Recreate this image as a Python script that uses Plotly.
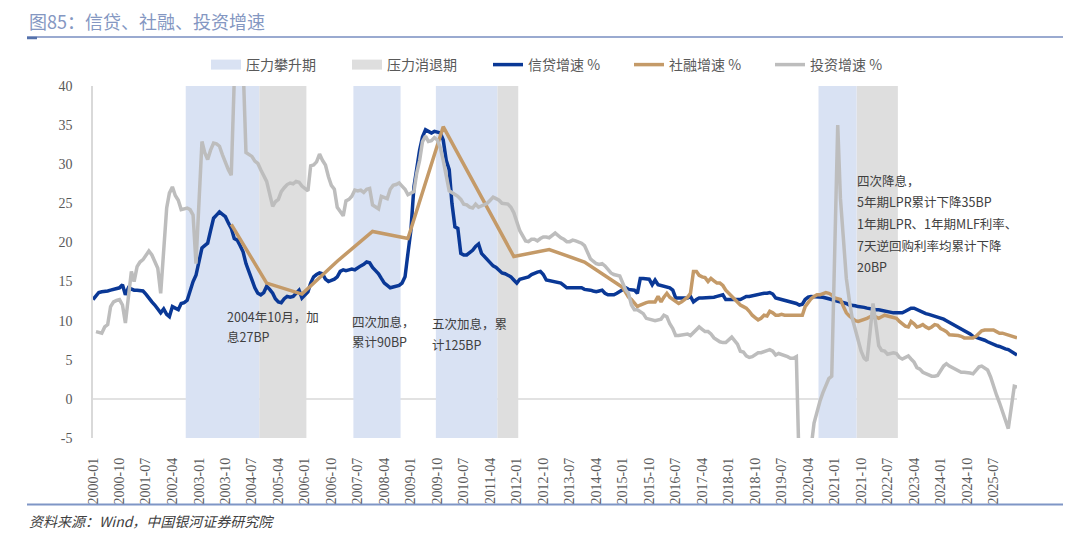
import pandas as pd
import plotly.graph_objects as go

# ---------------- data ----------------
# 信贷增速 %  (monthly, 2000-01 .. 2026-03)
loan_2000 = [12.7, 13.2, 13.6, 13.7, 13.7, 13.8, 13.9, 14.0, 14.0, 14.2, 14.6, 13.3]
loan_2001 = [14.2, 14.0, 13.9, 13.9, 13.9, 13.8, 13.4, 12.8, 12.4, 12.0, 11.5, 11.0]
loan_2002 = [11.5, 10.8, 10.5, 11.8, 11.6, 11.4, 12.2, 12.3, 12.6, 13.9, 15.0, 15.8]
loan_2003 = [17.5, 19.3, 19.6, 19.9, 21.5, 23.1, 23.5, 23.9, 23.6, 23.3, 22.5, 21.8]
loan_2004 = [20.5, 20.3, 19.6, 18.8, 17.3, 16.2, 15.0, 14.2, 13.5, 13.3, 13.6, 14.4]
loan_2005 = [14.0, 13.5, 12.8, 12.4, 12.3, 12.8, 13.1, 13.0, 13.1, 13.5, 13.9, 12.9]
loan_2006 = [13.3, 13.7, 14.8, 15.6, 15.9, 16.1, 16.0, 15.3, 15.0, 15.1, 15.3, 15.6]
loan_2007 = [16.3, 16.5, 16.4, 16.5, 16.6, 16.5, 16.8, 17.0, 17.2, 17.5, 17.4, 16.8]
loan_2008 = [16.4, 16.0, 15.4, 14.8, 14.5, 14.2, 14.3, 14.4, 14.5, 14.8, 15.6, 18.6]
loan_2009 = [21.6, 27.1, 29.7, 31.8, 33.5, 34.4, 34.2, 34.0, 34.2, 34.1, 34.0, 33.1]
loan_2010 = [30.5, 29.3, 25.0, 22.0, 21.8, 18.6, 18.4, 18.4, 18.7, 19.0, 19.5, 19.8]
loan_2011 = [18.6, 18.2, 17.8, 17.5, 17.0, 16.8, 16.5, 16.1, 16.0, 15.8, 15.6, 15.2]
loan_2012 = [14.8, 15.3, 15.4, 15.5, 15.6, 15.9, 16.1, 16.2, 16.3, 15.9, 15.2, 15.1]
loan_2013 = [15.0, 14.9, 14.9, 14.8, 14.5, 14.2, 14.2, 14.2, 14.1, 14.2, 14.2, 14.0]
loan_2014 = [14.0, 13.9, 13.8, 13.7, 13.8, 13.9, 13.5, 13.3, 13.3, 13.3, 13.5, 13.7]
loan_2015 = [13.9, 14.2, 14.0, 13.9, 13.9, 13.5, 15.4, 15.4, 15.4, 15.3, 14.6, 15.2]
loan_2016 = [14.6, 14.5, 14.4, 14.4, 14.2, 13.9, 12.9, 12.9, 12.9, 12.9, 12.9, 13.1]
loan_2017 = [12.4, 12.7, 12.9, 12.9, 12.9, 12.9, 13.0, 13.0, 13.1, 13.2, 13.3, 12.7]
loan_2018 = [12.7, 12.7, 12.7, 12.7, 12.7, 12.9, 13.1, 13.1, 13.2, 13.3, 13.3, 13.4]
loan_2019 = [13.5, 13.5, 13.6, 13.4, 12.9, 12.8, 12.7, 12.6, 12.5, 12.4, 12.4, 12.2]
loan_2020 = [12.0, 12.1, 12.7, 13.0, 13.1, 13.1, 13.0, 13.0, 13.0, 12.9, 12.8, 12.7]
loan_2021 = [12.7, 12.6, 12.4, 12.3, 12.2, 12.0, 12.0, 11.9, 11.8, 11.8, 11.7, 11.6]
loan_2022 = [11.5, 11.4, 11.4, 11.4, 11.3, 11.2, 11.2, 11.1, 11.0, 11.0, 11.0, 11.0]
loan_2023 = [11.2, 11.4, 11.6, 11.6, 11.4, 11.2, 11.0, 10.9, 10.8, 10.7, 10.6, 10.5]
loan_2024 = [10.3, 10.2, 10.0, 9.8, 9.6, 9.3, 9.1, 8.9, 8.7, 8.5, 8.3, 8.0]
loan_2025 = [7.9, 7.8, 7.6, 7.5, 7.3, 7.1, 6.9, 6.8, 6.7, 6.5, 6.4, 6.3]
loan_2026 = [6.1, 5.9, 5.6]

# 投资增速 %  (monthly, 2000-01 .. 2026-03; January not published)
inv_2000 = [None, 8.6, 8.5, 8.4, 9.2, 9.5, 11.8, 12.4, 12.6, 12.7, 12.0, 9.7]
inv_2001 = [None, 16.3, 15.0, 16.9, 17.5, 17.8, 18.3, 18.9, 18.4, 17.6, 16.7, 13.5]
inv_2002 = [None, 24.4, 26.3, 27.1, 26.0, 25.4, 24.2, 24.3, 24.4, 24.2, 23.5, 17.3]
inv_2003 = [None, 32.9, 31.5, 30.6, 31.8, 32.7, 32.6, 32.3, 31.2, 30.1, 29.3, 28.6]
inv_2004 = [None, 53.0, 47.8, 42.8, 31.5, 31.2, 31.0, 30.4, 30.1, 29.3, 28.6, 27.8]
inv_2005 = [None, 24.6, 25.2, 25.5, 26.5, 27.0, 27.4, 27.6, 27.5, 27.8, 27.7, 27.2]
inv_2006 = [None, 26.6, 29.8, 29.9, 30.3, 31.3, 30.5, 29.9, 28.4, 27.3, 26.8, 24.5]
inv_2007 = [None, 23.4, 25.3, 25.5, 25.9, 26.7, 26.6, 26.7, 26.4, 26.8, 26.9, 24.8]
inv_2008 = [None, 24.3, 25.9, 25.7, 25.6, 26.8, 27.3, 27.4, 27.6, 27.2, 26.8, 26.1]
inv_2009 = [None, 26.5, 28.8, 30.5, 32.9, 33.6, 32.9, 33.0, 33.4, 33.1, 32.1, 30.5]
inv_2010 = [None, 26.6, 26.4, 26.1, 25.9, 25.5, 24.9, 24.8, 24.5, 24.4, 24.9, 24.5]
inv_2011 = [None, 24.9, 25.0, 25.4, 25.8, 25.6, 25.4, 25.0, 24.9, 24.9, 24.5, 23.8]
inv_2012 = [None, 21.5, 20.9, 20.2, 20.1, 20.4, 20.4, 20.2, 20.5, 20.7, 20.7, 20.6]
inv_2013 = [None, 21.2, 20.9, 20.6, 20.4, 20.1, 20.1, 20.3, 20.2, 20.1, 19.9, 19.6]
inv_2014 = [None, 17.9, 17.6, 17.3, 17.2, 17.3, 17.0, 16.5, 16.1, 15.9, 15.8, 15.7]
inv_2015 = [None, 13.9, 13.5, 12.0, 11.4, 11.4, 11.2, 10.9, 10.3, 10.2, 10.2, 10.0]
inv_2016 = [None, 10.2, 10.7, 10.5, 9.6, 9.0, 8.1, 8.1, 8.2, 8.3, 8.3, 8.1]
inv_2017 = [None, 8.9, 9.2, 8.9, 8.6, 8.6, 8.3, 7.8, 7.5, 7.3, 7.2, 7.2]
inv_2018 = [None, 7.9, 7.5, 7.0, 6.1, 6.0, 5.5, 5.3, 5.4, 5.7, 5.9, 5.9]
inv_2019 = [None, 6.1, 6.3, 6.1, 5.6, 5.8, 5.7, 5.5, 5.4, 5.2, 5.2, 5.4]
inv_2020 = [None, -24.5, -16.1, -10.3, -6.3, -3.1, -1.6, -0.3, 0.8, 1.8, 2.6, 2.9]
inv_2021 = [None, 35.0, 25.6, 19.9, 15.4, 12.6, 10.3, 8.9, 7.3, 6.1, 5.2, 4.9]
inv_2022 = [None, 12.2, 9.3, 6.8, 6.2, 6.1, 5.7, 5.8, 5.9, 5.8, 5.3, 5.1]
inv_2023 = [None, 5.5, 5.1, 4.7, 4.0, 3.8, 3.4, 3.2, 3.1, 2.9, 2.9, 3.0]
inv_2024 = [None, 4.2, 4.5, 4.2, 4.0, 3.9, 3.6, 3.4, 3.4, 3.4, 3.3, 3.2]
inv_2025 = [None, 4.1, 4.2, 4.0, 3.7, 2.8, 1.6, 0.5, -0.5, -1.7, -2.6, -3.8]
inv_2026 = [None, 1.6, 1.5]

# 社融增速 %  (annual points 2003-2014, then monthly from 2015-01)
sf_annual_dates = ["2003-12", "2004-12", "2005-12", "2006-12", "2007-12", "2008-12",
                   "2009-12", "2010-12", "2011-12", "2012-12", "2013-12", "2014-12"]
sf_annual_values = [22.3, 14.8, 13.4, 17.6, 21.4, 20.5, 34.8, 26.5, 18.2, 19.1, 17.5, 14.5]
sf_2015 = [14.2, 13.6, 13.0, 12.7, 12.3, 11.8, 12.0, 12.2, 12.3, 12.4, 12.4, 12.4]
sf_2016 = [13.1, 12.4, 13.0, 13.5, 13.0, 12.7, 12.4, 12.2, 12.4, 12.7, 13.0, 13.5]
sf_2017 = [16.3, 16.3, 15.8, 15.6, 15.5, 15.0, 15.4, 15.1, 14.8, 14.8, 14.5, 13.9]
sf_2018 = [13.5, 13.2, 12.7, 12.4, 12.0, 11.8, 11.6, 11.2, 10.7, 10.4, 10.1, 10.3]
sf_2019 = [10.7, 10.6, 11.2, 11.0, 10.7, 10.7, 10.8, 10.7, 10.7, 10.7, 10.7, 10.7]
sf_2020 = [10.7, 10.7, 11.8, 12.4, 12.8, 13.1, 13.3, 13.3, 13.5, 13.6, 13.5, 13.3]
sf_2021 = [12.9, 12.8, 12.7, 11.8, 11.0, 10.6, 10.3, 10.0, 9.9, 10.0, 10.1, 10.3]
sf_2022 = [10.5, 10.4, 10.5, 10.3, 10.5, 10.7, 10.6, 10.5, 10.5, 10.3, 9.9, 9.6]
sf_2023 = [9.3, 9.2, 9.9, 9.6, 9.2, 9.3, 9.5, 9.2, 9.0, 9.2, 9.5, 9.4]
sf_2024 = [9.0, 8.8, 8.6, 8.2, 8.2, 8.2, 8.1, 8.0, 7.8, 7.8, 7.8, 7.8]
sf_2025 = [8.0, 8.3, 8.7, 8.8, 8.8, 8.8, 8.8, 8.6, 8.4, 8.4, 8.3, 8.2]
sf_2026 = [8.1, 8.0, 7.8]

# 压力攀升期 / 压力消退期 (first month, last month)
rise_periods = [("2002-09", "2004-09"), ("2007-06", "2008-09"),
                ("2009-10", "2011-06"), ("2020-08", "2021-08")]
ease_periods = [("2004-10", "2006-01"), ("2011-07", "2012-01"), ("2021-09", "2022-10")]

# axis ticks
tick_dates = pd.date_range("2000-01-01", "2025-07-01", freq="9MS")
tick_labels = [d.strftime("%Y-%m") for d in tick_dates]
y_tick_vals = [-5, 0, 5, 10, 15, 20, 25, 30, 35, 40]
y_tick_labels = ["-5", "0", "5", "10", "15", "20", "25", "30", "35", "40"]

# ---------------- assemble ----------------
loan = (loan_2000 + loan_2001 + loan_2002 + loan_2003 + loan_2004 + loan_2005 + loan_2006
        + loan_2007 + loan_2008 + loan_2009 + loan_2010 + loan_2011 + loan_2012 + loan_2013
        + loan_2014 + loan_2015 + loan_2016 + loan_2017 + loan_2018 + loan_2019 + loan_2020
        + loan_2021 + loan_2022 + loan_2023 + loan_2024 + loan_2025 + loan_2026)
inv = (inv_2000 + inv_2001 + inv_2002 + inv_2003 + inv_2004 + inv_2005 + inv_2006
       + inv_2007 + inv_2008 + inv_2009 + inv_2010 + inv_2011 + inv_2012 + inv_2013
       + inv_2014 + inv_2015 + inv_2016 + inv_2017 + inv_2018 + inv_2019 + inv_2020
       + inv_2021 + inv_2022 + inv_2023 + inv_2024 + inv_2025 + inv_2026)
sf_monthly = (sf_2015 + sf_2016 + sf_2017 + sf_2018 + sf_2019 + sf_2020 + sf_2021
              + sf_2022 + sf_2023 + sf_2024 + sf_2025 + sf_2026)

months = pd.date_range("2000-01-01", periods=len(loan), freq="MS")
inv_months = pd.date_range("2000-01-01", periods=len(inv), freq="MS")
sf_months = list(pd.to_datetime(sf_annual_dates)) + list(
    pd.date_range("2015-01-01", periods=len(sf_monthly), freq="MS"))
sf_values = sf_annual_values + sf_monthly

C_LOAN = "#0A3896"
C_SF = "#C49A68"
C_INV = "#BDBDBD"
C_RISE = "#D9E2F3"
C_EASE = "#DEDEDE"
FONT_CJK = "Noto Sans CJK SC"
FONT_NUM = "Liberation Serif"

# plot area in pixels
L, R, T, B = 93, 1017, 86, 438
W, H = 1080, 538


def px_x(p):
    return (p - L) / (R - L)


def px_y(p):
    return (B - p) / (B - T)


fig = go.Figure()

# legend entries for the shaded periods
fig.add_trace(go.Scatter(x=[None], y=[None], mode="lines", name="压力攀升期",
                         line=dict(color=C_RISE, width=11)))
fig.add_trace(go.Scatter(x=[None], y=[None], mode="lines", name="压力消退期",
                         line=dict(color=C_EASE, width=11)))

fig.add_trace(go.Scatter(x=months, y=loan, mode="lines", name="信贷增速 %",
                         line=dict(color=C_LOAN, width=3.5)))
fig.add_trace(go.Scatter(x=sf_months, y=sf_values, mode="lines", name="社融增速 %",
                         line=dict(color=C_SF, width=3.5)))
fig.add_trace(go.Scatter(x=inv_months, y=inv, mode="lines", name="投资增速 %",
                         connectgaps=True, line=dict(color=C_INV, width=3.5)))

shapes = []
# zero reference line (drawn first so the shaded periods cover it)
shapes.append(dict(type="line", xref="x domain", yref="y", x0=0, x1=1, y0=0, y1=0,
                   line=dict(color="#D9D9D9", width=1.5), layer="below"))

half = pd.Timedelta(days=15)
for periods, col in ((rise_periods, C_RISE), (ease_periods, C_EASE)):
    for s, e in periods:
        x0 = pd.Timestamp(s + "-01") - half
        x1 = pd.Timestamp(e + "-01") + half
        shapes.append(dict(type="rect", xref="x", yref="y domain", x0=x0, x1=x1,
                           y0=0, y1=1, fillcolor=col, line=dict(width=0), layer="below"))

# title rule, bottom rule
shapes.append(dict(type="line", xref="paper", yref="paper", x0=px_x(27), x1=px_x(1063),
                   y0=px_y(37), y1=px_y(37), line=dict(color="#9AAAD0", width=2)))
shapes.append(dict(type="line", xref="paper", yref="paper", x0=px_x(27), x1=px_x(37),
                   y0=px_y(38), y1=px_y(38), line=dict(color="#5572AC", width=2.5)))
shapes.append(dict(type="line", xref="paper", yref="paper", x0=px_x(27), x1=px_x(1063),
                   y0=px_y(504.5), y1=px_y(504.5), line=dict(color="#7F96C6", width=2)))

annotations = [
    dict(text="图85：信贷、社融、投资增速", xref="paper", yref="paper", x=px_x(27), y=px_y(21),
         xanchor="left", yanchor="middle", showarrow=False,
         font=dict(family=FONT_CJK, size=18, color="#8497C2")),
    dict(text="<i>资料来源：Wind，中国银河证券研究院</i>", xref="paper", yref="paper",
         x=px_x(27), y=px_y(521), xanchor="left", yanchor="middle", showarrow=False,
         font=dict(family=FONT_CJK, size=14, color="#404040")),
]

notes = [
    (225, [(316.7, "2004年10月，加"), (336.7, "息27BP")]),
    (350, [(321.7, "四次加息，"), (341.7, "累计90BP")]),
    (430, [(323, "五次加息，累"), (344, "计125BP")]),
    (854.5, [(180, "四次降息，"), (201, "5年期LPR累计下降35BP"),
             (223.5, "1年期LPR、1年期MLF利率、"), (245.8, "7天逆回购利率均累计下降"),
             (266.7, "20BP")]),
]
for xp, lines in notes:
    for yp, txt in lines:
        annotations.append(dict(text=txt, xref="paper", yref="paper", x=px_x(xp), y=px_y(yp),
                                xanchor="left", yanchor="middle", showarrow=False,
                                font=dict(family=FONT_CJK, size=12.5, color="#404040")))

fig.update_layout(
    width=W, height=H, autosize=False,
    margin=dict(l=L, r=W - R, t=T, b=H - B, pad=0),
    paper_bgcolor="white", plot_bgcolor="white",
    shapes=shapes, annotations=annotations,
    showlegend=True,
    legend=dict(orientation="h", x=px_x(206), y=px_y(65), xanchor="left", yanchor="middle",
                font=dict(family=FONT_CJK, size=14, color="#595959"),
                bgcolor="rgba(0,0,0,0)", itemwidth=30, entrywidth=96,
                tracegroupgap=0),
    xaxis=dict(type="date", range=["2000-01-01", "2026-03-01"],
               tickmode="array", tickvals=tick_dates, ticktext=tick_labels,
               tickangle=-90, tickfont=dict(family=FONT_NUM, size=14, color="#595959"),
               showgrid=False, zeroline=False, showline=False, ticks="",
               ticklabelstandoff=16),
    yaxis=dict(range=[-5, 40], tickmode="array", tickvals=y_tick_vals, ticktext=y_tick_labels,
               tickfont=dict(family=FONT_NUM, size=14, color="#595959"),
               showgrid=False, zeroline=False,
               showline=True, linecolor="#D9D9D9", linewidth=1.5, ticks="",
               ticklabelstandoff=16),
)

fig.write_html("out.html")
